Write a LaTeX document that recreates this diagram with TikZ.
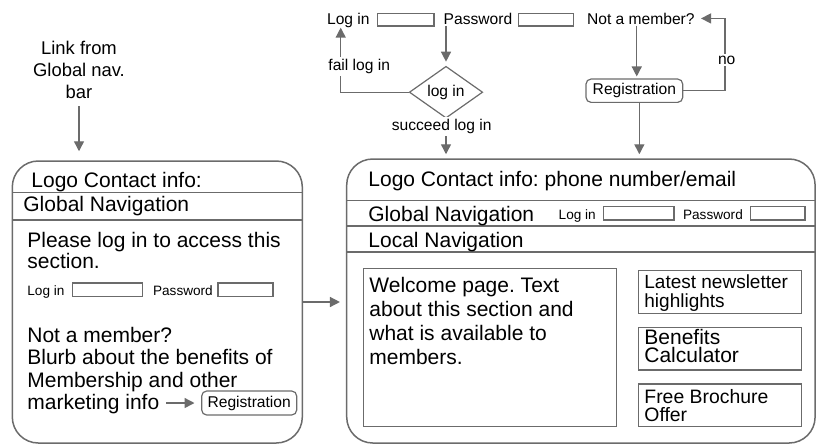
\documentclass[tikz,border=0pt]{standalone}
\usepackage{fontspec}
\setmainfont{Liberation Sans}
\usepackage{tikz}
\usetikzlibrary{calc,shapes.geometric,arrows.meta}
\frenchspacing
\definecolor{wireline}{gray}{0.42}
\newcommand\wfont[2]{\fontsize{#1}{#2}\selectfont}
\newcommand\wfbig{\wfont{10.5}{10.25}}
\newcommand\wfmid{\wfont{7.8}{11}}
\newcommand\wfsmall{\wfont{6.8}{8}}
\tikzstyle{page}=[rectangle,draw=wireline,line width=0.75pt,rounded corners=13pt,
                  inner sep=0pt]
\tikzstyle{field}=[rectangle,draw=wireline,line width=0.6pt,inner sep=0pt]
\tikzstyle{button}=[rectangle,draw=wireline,line width=0.6pt,rounded corners=2.5pt,
                    inner sep=0pt,font=\wfmid]
\tikzstyle{decision}=[diamond,draw=wireline,line width=0.6pt,inner sep=0pt,
                      minimum width=36.7pt,minimum height=20.5pt,font=\wfmid]
\tikzstyle{txt}=[inner sep=0pt,anchor=base west,align=left]
\tikzstyle{flowlabel}=[fill=white,inner sep=1pt,font=\wfmid]
\tikzstyle{link}=[draw=wireline,line width=0.7pt,-{Triangle[length=5pt,width=5pt]}]
\tikzstyle{divider}=[draw=wireline,line width=0.6pt]

\begin{document}
\begin{tikzpicture}[x=0.5pt,y=-0.5pt]
	\useasboundingbox (0,0) rectangle (823,446);
	% the two pages
	\node [page,minimum width=145pt,minimum height=141pt] (leftpage) at (157.3,302) {};
	\node [page,minimum width=234.2pt,minimum height=142pt] (rightpage) at (580.9,301) {};
	\draw [divider] (12.3,192.7) -- (302.3,192.7);
	\draw [divider] (12.3,220) -- (302.3,220);
	\draw [divider] (346.7,200.7) -- (815,200.7);
	\draw [divider] (346.7,226) -- (815,226);
	\draw [divider] (346.7,252) -- (815,252);

	% login page (multi-line texts sit on their last baseline)
	\node [txt,font=\wfbig] (left logo) at (31,187) {Logo Contact info:};
	\node [txt,font=\wfbig] (left global) at (23,211.5) {Global Navigation};
	\node [txt,font=\wfbig] (left please) at (27,268) {Please log in to access this\\section.};
	\node [txt,font=\wfsmall] (left login) at (27,295) {Log in};
	\node [field,minimum width=35pt,minimum height=6.85pt] (left loginfield) at (107.7,289.85) {};
	\node [txt,font=\wfsmall] (left pw) at (152.7,295) {Password};
	\node [field,minimum width=27.5pt,minimum height=6.85pt] (left pwfield) at (245.5,289.85) {};
	\node [txt,font={\wfont{10.5}{11.15}}] (left blurb) at (27,409.4) {Not a member?\\Blurb about the benefits of\\Membership and other\\marketing info};
	\node [button,minimum width=47.5pt,minimum height=12pt] (left reg) at (249.2,403) {Registration};
	\coordinate (blurb end) at (166,403);
	\draw [link,shorten >=3.3pt] (blurb end) -- (left reg.west);

	% members page
	\node [txt,font=\wfbig] (right logo) at (368,186) {Logo Contact info: phone number/email};
	\node [txt,font=\wfbig] (right global) at (368,221) {Global Navigation};
	\node [txt,font=\wfsmall] (right login) at (558.3,219) {Log in};
	\node [field,minimum width=35.35pt,minimum height=6.65pt] (right loginfield) at (638.65,213.35) {};
	\node [txt,font=\wfsmall] (right pw) at (682.7,219) {Password};
	\node [field,minimum width=27.15pt,minimum height=6.65pt] (right pwfield) at (777.85,213.35) {};
	\node [txt,font=\wfbig] (right local) at (368,247.5) {Local Navigation};
	\node [field,minimum width=126.7pt,minimum height=79.2pt] (welcome) at (490,347.5) {};
	\node [txt,font={\wfont{10.5}{12.05}}] (welcome text) at (369,364.8) {Welcome page. Text\\about this section and\\what is available to\\members.};
	\node [field,minimum width=81.7pt,minimum height=21.3pt] (newsletter) at (720,292) {};
	\node [txt,font={\wfont{9.5}{9.5}}] (newsletter text) at (644,307.5) {Latest newsletter\\highlights};
	\node [field,minimum width=81.7pt,minimum height=21.35pt] (calculator) at (720,348.65) {};
	\node [txt,font={\wfont{10.5}{9.2}}] (calculator text) at (644,362.4) {Benefits\\Calculator};
	\node [field,minimum width=81.7pt,minimum height=21.35pt] (brochure) at (720,405.35) {};
	\node [txt,font={\wfont{9.7}{9.2}}] (brochure text) at (644,421.9) {Free Brochure\\Offer};

	% log in flow
	\node [txt,font=\wfmid] (top login) at (326.7,24) {Log in};
	\node [field,minimum width=28.35pt,minimum height=6.35pt] (top loginfield) at (405.65,19.65) {};
	\node [txt,font=\wfmid] (top pw) at (443.3,24) {Password};
	\node [field,minimum width=27.5pt,minimum height=6.35pt] (top pwfield) at (545.8,19.65) {};
	\node [txt,font=\wfmid] (top member) at (586.7,24) {Not a member?};
	\node [decision] (check) at (446,92.2) {log in};
	\node [button,minimum width=48.35pt,minimum height=11.65pt] (top reg) at (634.35,90.7) {Registration};
	\node [align=center,inner sep=0pt,font={\wfont{9.2}{11}}] (link note) at (79,70) {Link from\\Global nav.\\bar};

	\draw [link,shorten <=0.5pt,shorten >=2pt] (check.north |- top pw.south) -- (check.north);
	\draw [link] (check.west) -| ([xshift=7pt]top login.south west);
	\node [flowlabel] (fail) at (359.2,66.7) {fail log in};
	\draw [link,shorten >=2pt] (check.south) -- (check.south |- rightpage.north);
	\node [flowlabel] (succeed) at (441.7,126.7) {succeed log in};
	\draw [link,shorten <=0.5pt,shorten >=1pt] ([xshift=1.2pt]top reg.north |- top member.south) -- ([xshift=1.2pt]top reg.north);
	\draw [link,shorten >=2pt] ([xshift=2.5pt]top reg.south) -- ([xshift=2.5pt]top reg.south |- rightpage.north);
	\draw [link,shorten >=3pt] (top reg.east) -| ($(top member.east)+(30,0)$) -- (top member.east);
	\node [flowlabel] (no) at (726.7,60) {no};
	\draw [link,shorten <=3.5pt,shorten >=4.5pt] (link note.south) -- (link note.south |- leftpage.north);
	\draw [link,shorten >=3pt] (leftpage.east) -- (rightpage.west |- leftpage.east);
\end{tikzpicture}
\end{document}
